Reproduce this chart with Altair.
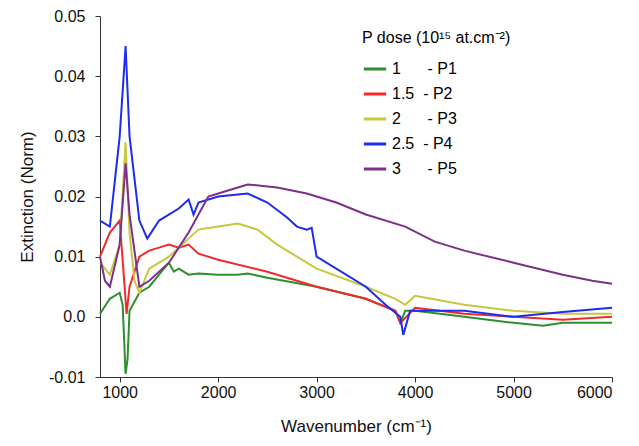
import altair as alt
import pandas as pd

S = "\u2007"
names = ["1" + S * 3 + "- P1", "1.5" + S + "- P2", "2" + S * 3 + "- P3",
         "2.5" + S + "- P4", "3" + S * 3 + "- P5"]
colors = ["#2e8f2e", "#f02a2a", "#c8c83c", "#1e2cf0", "#7e2f8a"]

p1_x = [800, 900, 1000, 1030, 1060, 1080, 1100, 1200, 1300, 1400, 1500, 1550, 1600, 1700, 1800, 2000, 2200, 2300, 2500, 3000, 3500, 3800, 3850, 3900, 4000, 4500, 5000, 5300, 5500, 6000]
p1_y = [0.0005, 0.003, 0.004, 0.002, -0.0095, -0.007, 0.001, 0.004, 0.005, 0.007, 0.009, 0.0075, 0.008, 0.007, 0.0072, 0.007, 0.007, 0.0072, 0.0065, 0.005, 0.003, 0.001, -0.001, 0.001, 0.001, 0.0, -0.001, -0.0015, -0.001, -0.001]

p2_x = [800, 900, 1000, 1050, 1070, 1100, 1200, 1300, 1400, 1500, 1600, 1700, 1800, 2000, 2500, 3000, 3500, 3800, 3850, 4000, 4500, 5000, 5500, 6000]
p2_y = [0.010, 0.014, 0.016, 0.005, 0.0005, 0.005, 0.010, 0.011, 0.0115, 0.012, 0.0115, 0.012, 0.0105, 0.0095, 0.0075, 0.005, 0.003, 0.001, -0.001, 0.0015, 0.0005, 0.0, -0.0005, 0.0]

p3_x = [800, 900, 1000, 1060, 1100, 1150, 1200, 1300, 1500, 1700, 1800, 2000, 2200, 2400, 2600, 2800, 3000, 3500, 3800, 3900, 4000, 4500, 5000, 5500, 6000]
p3_y = [0.009, 0.007, 0.012, 0.029, 0.014, 0.006, 0.004, 0.008, 0.010, 0.013, 0.0145, 0.015, 0.0155, 0.0145, 0.012, 0.010, 0.008, 0.005, 0.003, 0.002, 0.0035, 0.002, 0.001, 0.0005, 0.0005]

p4_x = [800, 900, 1000, 1060, 1100, 1200, 1280, 1400, 1600, 1700, 1750, 1800, 2000, 2300, 2500, 2700, 2800, 2900, 2950, 3000, 3500, 3700, 3850, 3880, 3950, 4000, 4500, 5000, 5500, 6000]
p4_y = [0.016, 0.015, 0.030, 0.045, 0.030, 0.016, 0.013, 0.016, 0.018, 0.0195, 0.017, 0.019, 0.020, 0.0205, 0.019, 0.0165, 0.015, 0.0145, 0.0148, 0.010, 0.005, 0.002, 0.0, -0.003, 0.001, 0.001, 0.001, 0.0, 0.0008, 0.0015]

p5_x = [800, 850, 900, 1000, 1060, 1100, 1200, 1300, 1500, 1700, 1900, 2100, 2300, 2600, 2900, 3200, 3500, 3900, 4200, 4500, 5000, 5500, 5800, 6000]
p5_y = [0.010, 0.006, 0.005, 0.012, 0.0255, 0.017, 0.005, 0.006, 0.009, 0.014, 0.020, 0.021, 0.022, 0.0215, 0.0205, 0.019, 0.017, 0.015, 0.0125, 0.011, 0.009, 0.007, 0.006, 0.0055]

rows = []
for name, xs, ys in zip(names, [p1_x, p2_x, p3_x, p4_x, p5_x], [p1_y, p2_y, p3_y, p4_y, p5_y]):
    for x, y in zip(xs, ys):
        rows.append({"wn": x, "ext": y, "dose": name})
df = pd.DataFrame(rows)

chart = (
    alt.Chart(df)
    .mark_line(strokeWidth=2)
    .encode(
        x=alt.X("wn:Q", title="Wavenumber (cm⁻¹)",
                scale=alt.Scale(domain=[800, 6000], nice=False),
                axis=alt.Axis(values=[1000, 2000, 3000, 4000, 5000, 6000], format="d",
                              titlePadding=18)),
        y=alt.Y("ext:Q", title="Extinction (Norm)",
                scale=alt.Scale(domain=[-0.01, 0.05], nice=False),
                axis=alt.Axis(values=[-0.01, 0, 0.01, 0.02, 0.03, 0.04, 0.05],
                              labelPadding=10, titlePadding=12,
                              labelExpr="datum.value == 0 ? '0.0' : replace(format(datum.value, '.2f'), '\u2212', '-')")),
        color=alt.Color("dose:N", scale=alt.Scale(domain=names, range=colors),
                        legend=alt.Legend(title="P dose (10¹⁵ at.cm⁻²)", orient="none",
                                          legendX=262, legendY=14, symbolType="stroke",
                                          symbolStrokeWidth=3, symbolSize=500,
                                          labelFontSize=16, titleFontSize=16,
                                          titleFontWeight="normal", rowPadding=4,
                                          titlePadding=10, labelFont="Liberation Sans",
                                          titleFont="Liberation Sans", padding=0)),
        detail="dose:N",
    )
    .properties(width=512, height=361, padding={"top": 0, "left": 10, "right": 5, "bottom": 5})
    .configure_axis(labelFont="Liberation Sans", titleFont="Liberation Sans",
                    labelFontSize=16, titleFontSize=17, titleFontWeight="normal",
                    grid=False, domainColor="#333", tickColor="#333",
                    labelColor="#111", titleColor="#111")
    .configure_view(stroke=None)
)

chart.save("out.html", embed_options={"renderer": "svg", "actions": False})
